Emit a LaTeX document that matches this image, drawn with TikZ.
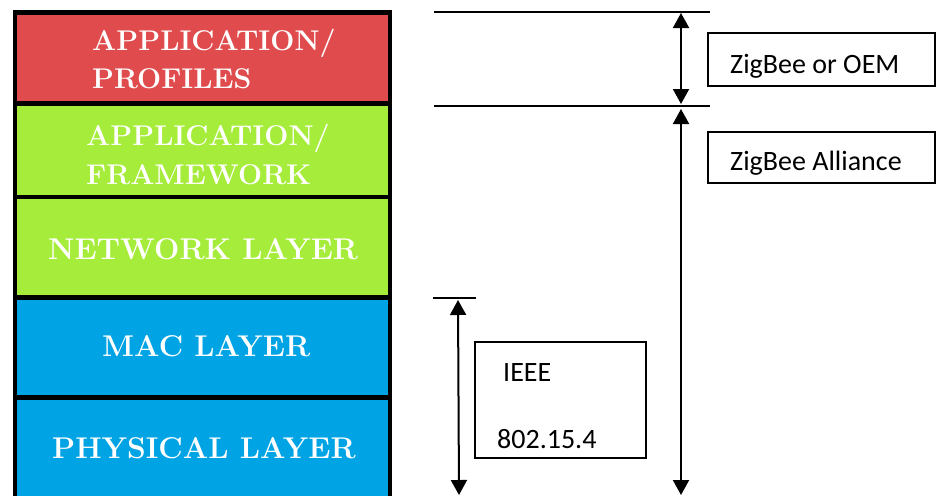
\documentclass[tikz,border=0pt]{standalone}
\usepackage{fontspec}
\newfontfamily\calib{Carlito}
\usetikzlibrary{arrows.meta}
\definecolor{appred}{HTML}{E04B4D}
\definecolor{appgreen}{HTML}{A6EC3A}
\definecolor{appblue}{HTML}{00A3E4}
\begin{document}
\begin{tikzpicture}[x=1pt,y=-1pt,
  layerbox/.style={draw=none,inner sep=0,outer sep=0,anchor=north west,minimum width=371pt},
  smalltxt/.style={text=white,inner sep=0,anchor=base west,font=\fontsize{28.5}{32}\selectfont\bfseries},
  bigtxt/.style={text=white,inner sep=0,anchor=base west,font=\fontsize{30}{34}\selectfont\bfseries},
  labbox/.style={draw=black,line width=1.3pt,inner sep=0,outer sep=0,anchor=north west},
  labtxt/.style={inner sep=0,anchor=base west,font=\calib\fontsize{28}{32}\selectfont},
  dimline/.style={line width=1.4pt},
  dimarrow/.style={line width=2pt,{Triangle[width=16pt,length=15pt]}-{Triangle[width=16pt,length=15pt]}}
]
\useasboundingbox (0,0) rectangle (939,496);
% black frame of the stack
\node[fill=black,inner sep=0,outer sep=0,anchor=north west,minimum width=379pt,minimum height=486pt] (frame) at (13,10) {};
% layers
\node[layerbox,fill=appred,minimum height=86pt] (prof) at (17,15) {};
\node[layerbox,fill=appgreen,minimum height=89pt] (fw) at (17,106) {};
\node[layerbox,fill=appgreen,minimum height=96pt] (net) at (17,199) {};
\node[layerbox,fill=appblue,minimum height=95pt] (mac) at (17,300) {};
\node[layerbox,fill=appblue,minimum height=96pt] (phy) at (17,400) {};
% layer texts
\node[smalltxt] (t1) at (92,50) {APPLICATION/};
\node[smalltxt] (t2) at (92,88) {PROFILES};
\node[smalltxt] (t3) at (86,145) {APPLICATION/};
\node[smalltxt] (t4) at (86,184) {FRAMEWORK};
\node[bigtxt] (t5) at (48,259) {NETWORK LAYER};
\node[bigtxt] (t6) at (102,356) {MAC LAYER};
\node[bigtxt] (t7) at (52,458) {PHYSICAL LAYER};
% reference lines
\coordinate (l1a) at (434,12);  \coordinate (l1b) at (710,12);
\coordinate (l2a) at (434,106); \coordinate (l2b) at (710,106);
\coordinate (l3a) at (433,298); \coordinate (l3b) at (476,298);
\draw[dimline] (l1a) -- (l1b);
\draw[dimline] (l2a) -- (l2b);
\draw[dimline] (l3a) -- (l3b);
% arrows
\coordinate (a1t) at (681,13);  \coordinate (a1b) at (681,104);
\coordinate (a2t) at (681,109); \coordinate (a2b) at (681,495);
\coordinate (a3t) at (458,300); \coordinate (a3b) at (459,495);
\draw[dimarrow] (a1t) -- (a1b);
\draw[dimarrow] (a2t) -- (a2b);
\draw[dimarrow] (a3t) -- (a3b);
% label boxes
\node[labbox,minimum width=227pt,minimum height=53pt] (oem) at (708,33) {};
\node[labtxt] (oemt) at (730,73) {ZigBee or OEM};
\node[labbox,minimum width=227pt,minimum height=51pt] (all) at (708,132) {};
\node[labtxt] (allt) at (730,170) {ZigBee Alliance};
\node[labbox,minimum width=171pt,minimum height=116pt] (ieee) at (475,342) {};
\node[labtxt] (ieeet) at (503,381) {IEEE};
\node[labtxt] (ieeen) at (497,448) {802.15.4};
\end{tikzpicture}
\end{document}
